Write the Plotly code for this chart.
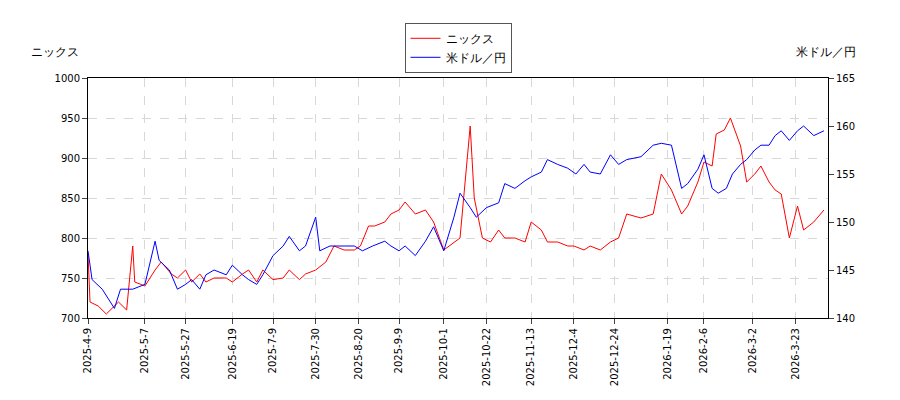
import plotly.graph_objects as go

nx_dates = ["2025-04-09","2025-04-10","2025-04-14","2025-04-18","2025-04-24","2025-04-28","2025-05-01","2025-05-02","2025-05-07","2025-05-12","2025-05-15","2025-05-20","2025-05-23","2025-05-27","2025-05-30","2025-06-03","2025-06-06","2025-06-10","2025-06-16","2025-06-19","2025-06-24","2025-06-27","2025-07-01","2025-07-04","2025-07-09","2025-07-14","2025-07-17","2025-07-22","2025-07-25","2025-07-30","2025-08-04","2025-08-08","2025-08-13","2025-08-18","2025-08-21","2025-08-25","2025-08-28","2025-09-02","2025-09-05","2025-09-09","2025-09-12","2025-09-17","2025-09-22","2025-09-26","2025-10-01","2025-10-06","2025-10-09","2025-10-14","2025-10-16","2025-10-20","2025-10-24","2025-10-28","2025-10-31","2025-11-05","2025-11-10","2025-11-13","2025-11-18","2025-11-21","2025-11-26","2025-12-01","2025-12-04","2025-12-09","2025-12-12","2025-12-17","2025-12-22","2025-12-26","2025-12-30","2026-01-06","2026-01-12","2026-01-16","2026-01-21","2026-01-26","2026-01-29","2026-02-03","2026-02-06","2026-02-10","2026-02-12","2026-02-16","2026-02-19","2026-02-24","2026-02-27","2026-03-03","2026-03-06","2026-03-10","2026-03-13","2026-03-16","2026-03-20","2026-03-24","2026-03-27","2026-04-01","2026-04-06"]
nx_vals = [780,720,715,705,720,710,790,745,740,760,770,755,750,760,745,755,745,750,750,745,755,760,745,760,748,750,760,748,755,760,770,790,785,785,790,815,815,820,830,835,845,830,835,820,785,795,800,940,850,800,795,810,800,800,795,820,810,795,795,790,790,785,790,785,795,800,830,825,830,880,860,830,840,870,895,890,930,935,950,915,870,880,890,870,860,855,800,840,810,820,835]

fx_dates = ["2025-04-09","2025-04-11","2025-04-16","2025-04-22","2025-04-25","2025-05-01","2025-05-07","2025-05-12","2025-05-14","2025-05-19","2025-05-23","2025-05-27","2025-05-30","2025-06-03","2025-06-06","2025-06-10","2025-06-16","2025-06-19","2025-06-24","2025-06-27","2025-07-01","2025-07-04","2025-07-09","2025-07-14","2025-07-17","2025-07-22","2025-07-25","2025-07-30","2025-08-01","2025-08-06","2025-08-13","2025-08-18","2025-08-22","2025-08-27","2025-09-02","2025-09-05","2025-09-09","2025-09-12","2025-09-17","2025-09-22","2025-09-26","2025-10-01","2025-10-06","2025-10-09","2025-10-14","2025-10-17","2025-10-22","2025-10-28","2025-10-31","2025-11-05","2025-11-10","2025-11-13","2025-11-18","2025-11-21","2025-11-26","2025-12-01","2025-12-05","2025-12-09","2025-12-12","2025-12-17","2025-12-22","2025-12-26","2025-12-30","2026-01-06","2026-01-12","2026-01-16","2026-01-21","2026-01-26","2026-01-29","2026-02-03","2026-02-06","2026-02-10","2026-02-13","2026-02-17","2026-02-20","2026-02-24","2026-02-27","2026-03-03","2026-03-06","2026-03-10","2026-03-13","2026-03-16","2026-03-20","2026-03-24","2026-03-27","2026-04-01","2026-04-06"]
fx_vals = [147,144,143,141,143,143,143.5,148,146,145,143,143.5,144,143,144.5,145,144.5,145.5,144.5,144,143.5,144.5,146.5,147.5,148.5,147,147.5,150.5,147,147.5,147.5,147.5,147,147.5,148,147.5,147,147.5,146.5,148,149.5,147,150.5,153,151.5,150.5,151.5,152,154,153.5,154.3,154.7,155.2,156.5,156,155.6,155,156,155.2,155,157,156,156.5,156.8,158,158.2,158,153.5,154,155.5,157,153.5,153,153.5,155,156,156.5,157.5,158,158,159,159.5,158.5,159.5,160,159,159.5]

tick_vals = ["2025-04-09","2025-05-07","2025-05-27","2025-06-19","2025-07-09","2025-07-30","2025-08-20","2025-09-09","2025-10-01","2025-10-22","2025-11-13","2025-12-04","2025-12-24","2026-01-19","2026-02-06","2026-03-02","2026-03-23"]
tick_text = ["2025-4-9","2025-5-7","2025-5-27","2025-6-19","2025-7-9","2025-7-30","2025-8-20","2025-9-9","2025-10-1","2025-10-22","2025-11-13","2025-12-4","2025-12-24","2026-1-19","2026-2-6","2026-3-2","2026-3-23"]

fig = go.Figure()
fig.add_trace(go.Scatter(x=nx_dates, y=nx_vals, name="ニックス", mode="lines", line=dict(color="red", width=1)))
fig.add_trace(go.Scatter(x=fx_dates, y=fx_vals, name="米ドル／円", mode="lines", line=dict(color="blue", width=1), yaxis="y2"))

grid = dict(showgrid=True, gridcolor="#d8d8d8", griddash="dash", gridwidth=1)
fig.update_layout(
    width=900, height=400, plot_bgcolor="white", paper_bgcolor="white",
    margin=dict(l=80, r=80, t=70, b=90, autoexpand=False),
    font=dict(family="DejaVu Sans", size=10, color="black"),
    legend=dict(x=0.5, y=1.23, xanchor="center", yanchor="top", bordercolor="#555", borderwidth=1, font=dict(size=12)),
    xaxis=dict(range=["2025-04-09","2026-04-08"], tickvals=tick_vals, ticktext=tick_text, tickangle=-90,
               ticks="outside", showline=True, linecolor="black", mirror=True, automargin=False, **grid),
    yaxis=dict(range=[700,1000], dtick=50, ticks="outside", showline=True, linecolor="black", mirror=True, automargin=False, **grid),
    yaxis2=dict(range=[140,165], dtick=5, overlaying="y", side="right", ticks="outside", showline=True, linecolor="black", showgrid=False, automargin=False),
    annotations=[
        dict(text="ニックス", xref="paper", yref="paper", x=-0.08, y=1.07, showarrow=False, xanchor="left", yanchor="bottom", font=dict(size=12)),
        dict(text="米ドル／円", xref="paper", yref="paper", x=1.04, y=1.07, showarrow=False, xanchor="right", yanchor="bottom", font=dict(size=12)),
    ],
)
fig.write_html("out.html")
